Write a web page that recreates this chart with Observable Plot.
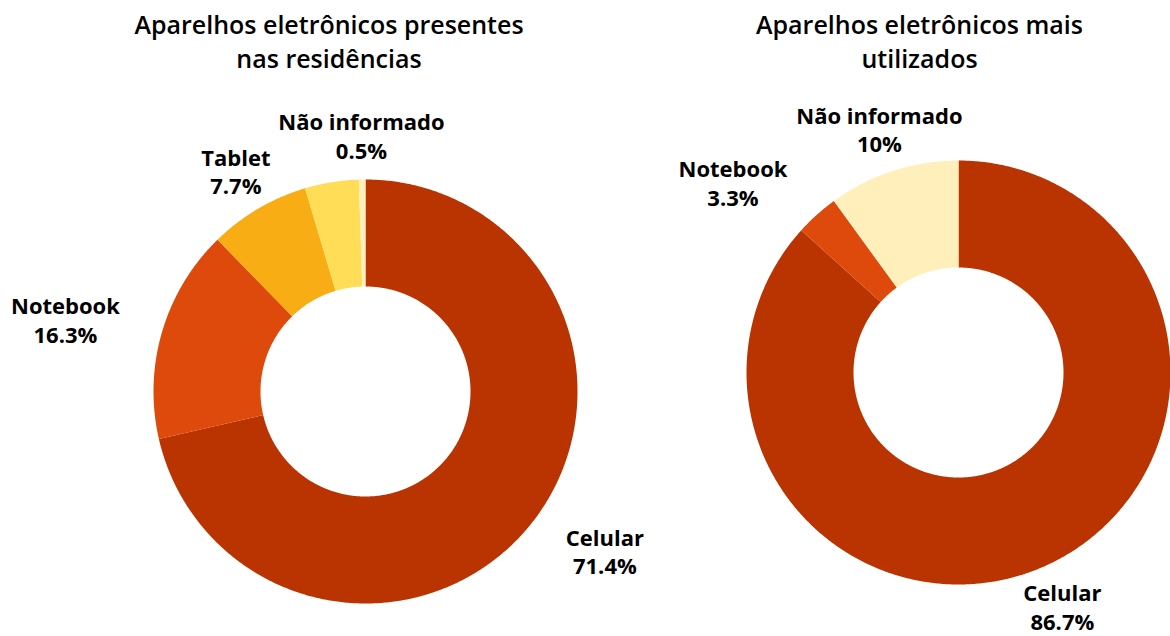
<!DOCTYPE html>
<html>
<head>
<meta charset="utf-8">
<script src="https://cdn.jsdelivr.net/npm/d3@7"></script>
<script src="https://cdn.jsdelivr.net/npm/@observablehq/plot@0.6"></script>
<style>
  html, body { margin: 0; padding: 0; background: #fff; }
  #wrap { position: relative; width: 1170px; height: 636px; font-family: "Open Sans", sans-serif; }
  .title { position: absolute; top: 7px; text-align: center; font-size: 25px; font-weight: 600; line-height: 34px; color: #000; white-space: nowrap; }
  #chart { position: absolute; left: 0; top: 80px; }
</style>
</head>
<body>
<div id="wrap">
  <div class="title" style="left:0;width:658px">Aparelhos eletrônicos presentes<br>nas residências</div>
  <div class="title" style="left:669px;width:501px">Aparelhos eletrônicos mais<br>utilizados</div>
  <div id="chart"></div>
</div>
<script>
// ---- data ----
const leftTitle = "Aparelhos eletrônicos presentes nas residências";
const leftCategories = ["Celular", "Notebook", "Tablet", "Outros", "Não informado"];
const leftValues = [71.4, 16.3, 7.7, 4.1, 0.5];
const leftLabeled = [true, true, true, false, true];

const rightTitle = "Aparelhos eletrônicos mais utilizados";
const rightCategories = ["Celular", "Notebook", "Não informado"];
const rightValues = [86.7, 3.3, 10];
const rightLabeled = [true, true, true];

const colorDomain = ["Celular", "Notebook", "Tablet", "Outros", "Não informado"];
const colorRange = ["#b93400", "#dd4a0c", "#f9ad14", "#ffdd57", "#fff0bb"];

// ---- layout ----
const W = 1170, H = 556, TOP = 80;
const R = 212, RIN = 105, LABEL_R = 256;
const FONT_SIZE = 22;
const donuts = [
  {id: "left", cx: 365, cy: 391, cats: leftCategories, vals: leftValues, labeled: leftLabeled},
  {id: "right", cx: 958, cy: 372, cats: rightCategories, vals: rightValues, labeled: rightLabeled}
];

const ctx = document.createElement("canvas").getContext("2d");
ctx.font = `700 ${FONT_SIZE}px "Open Sans"`;
const blockWidth = lines => d3.max(lines, l => ctx.measureText(l).width);

const arcPts = [];
const labels = [];
for (const d of donuts) {
  const total = d3.sum(d.vals);
  let acc = 0;
  d.cats.forEach((c, i) => {
    const a0 = acc / total * 2 * Math.PI;
    acc += d.vals[i];
    const a1 = acc / total * 2 * Math.PI;
    const n = Math.max(2, Math.ceil((a1 - a0) / (Math.PI / 360)));
    const key = d.id + "-" + i;
    for (let k = 0; k <= n; k++) {
      const a = a0 + (a1 - a0) * k / n;
      arcPts.push({key, cat: c, x: d.cx + R * Math.sin(a), y: d.cy - R * Math.cos(a)});
    }
    for (let k = n; k >= 0; k--) {
      const a = a0 + (a1 - a0) * k / n;
      arcPts.push({key, cat: c, x: d.cx + RIN * Math.sin(a), y: d.cy - RIN * Math.cos(a)});
    }
    if (d.labeled[i]) {
      const am = (a0 + a1) / 2;
      const s = Math.sin(am);
      const lines = [c, d3.format("")(d.vals[i]) + "%"];
      const bw = blockWidth(lines);
      const shift = s > 0.6 ? bw / 2 : s < -0.6 ? -bw / 2 : 0;
      labels.push({
        x: d.cx + LABEL_R * s + shift,
        y: d.cy - LABEL_R * Math.cos(am),
        text: lines.join("\n")
      });
    }
  });
}

const chart = Plot.plot({
  width: W,
  height: H,
  margin: 0,
  style: {fontFamily: "'Open Sans', sans-serif", background: "white", overflow: "visible"},
  x: {domain: [0, W], range: [0, W], axis: null},
  y: {domain: [TOP, TOP + H], range: [0, H], axis: null},
  color: {domain: colorDomain, range: colorRange},
  marks: [
    Plot.line(arcPts, {x: "x", y: "y", z: "key", fill: "cat", stroke: "none"}),
    Plot.text(labels, {
      x: "x", y: "y", text: "text", textAnchor: "middle", lineAnchor: "middle",
      fontSize: FONT_SIZE, fontWeight: 700, lineHeight: 1.3, fill: "#000"
    })
  ]
});
document.getElementById("chart").appendChild(chart);
</script>
</body>
</html>
